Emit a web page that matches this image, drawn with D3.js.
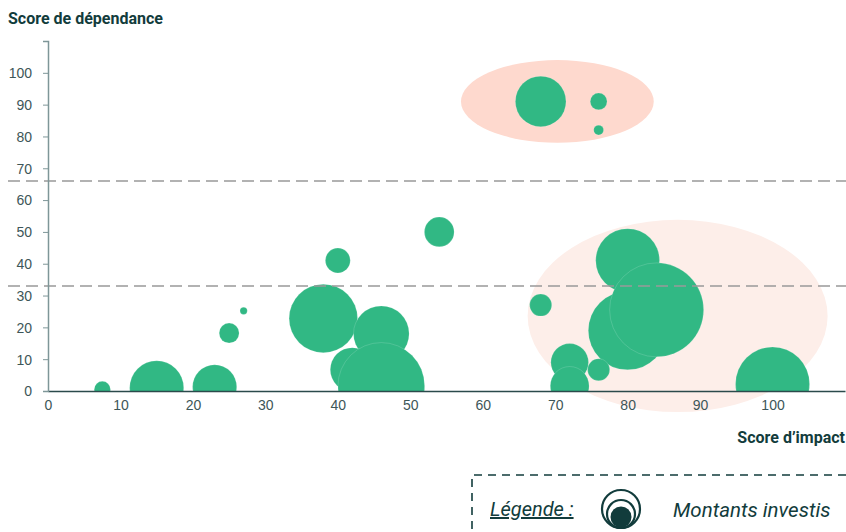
<!DOCTYPE html>
<html lang="fr">
<head>
<meta charset="UTF-8">
<title>Score d'impact / dépendance</title>
<script src="https://d3js.org/d3.v7.min.js"></script>
<style>
  body { margin: 0; background: #fff; font-family: Roboto, "Noto Sans", sans-serif; }
  .tick text { fill: #3d5658; font-size: 14px; }
</style>
</head>
<body>
<svg id="chart"></svg>
<script>
// impact score (x), dependance score (y), invested amount (bubble size)
const impact     = [7.5, 15, 23, 25, 27, 38, 40, 54, 46, 42, 46, 68, 80, 80, 84, 72, 72, 76, 100, 68, 76, 76];
const dependance = [0.5, 1, 1.3, 18.2, 25.2, 22.8, 41, 50, 18, 6.7, 1.6, 27, 41, 19, 25.5, 9, 1.6, 6.7, 2.2, 91, 91, 82];
const montants   = [3, 33, 22, 4.5, 0.6, 53, 7, 10, 35, 22, 85, 5.5, 46, 70, 100, 16, 17, 5.5, 62, 29, 3.2, 1.1];

const thresholds = [33, 66];
const xTicks = d3.range(0, 101, 10);
const yTicks = d3.range(0, 101, 10);

// highlighted zones: centre and half-axes in data units
const zones = [
  { cx: 70.3, cy: 91, rx: 13.3, ry: 13, color: "#fed9ce" },
  { cx: 86.9, cy: 23.6, rx: 20.7, ry: 30.2, color: "#fdeee9" }
];

const width = 846, height = 532;
const margin = { left: 48, right: 1, top: 41, bottom: 141 };

const svg = d3.select("#chart").attr("width", width).attr("height", height);

const x = d3.scaleLinear().domain([0, 110]).range([margin.left, width - margin.right]);
const y = d3.scaleLinear().domain([0, 110]).range([height - margin.bottom, margin.top]);
const r = d3.scaleSqrt().domain([0, 100]).range([0, 47]);

// zones
svg.append("g").selectAll("ellipse")
  .data(zones)
  .join("ellipse")
  .attr("cx", d => x(d.cx))
  .attr("cy", d => y(d.cy))
  .attr("rx", d => x(d.rx) - x(0))
  .attr("ry", d => y(0) - y(d.ry))
  .attr("fill", d => d.color);

svg.append("clipPath").attr("id", "plot")
  .append("rect")
  .attr("x", margin.left).attr("y", 0)
  .attr("width", width - margin.left).attr("height", y(0));

const data = impact.map((v, i) => ({ x: v, y: dependance[i], m: montants[i] }));

svg.append("g").attr("clip-path", "url(#plot)")
  .selectAll("circle")
  .data(data)
  .join("circle")
  .attr("cx", d => x(d.x))
  .attr("cy", d => y(d.y))
  .attr("r", d => r(d.m))
  .attr("fill", "#31b884")
  .attr("stroke", "#ffffff")
  .attr("stroke-opacity", 0.25)
  .attr("stroke-width", 0.6);

// threshold lines
svg.append("g").selectAll("line")
  .data(thresholds)
  .join("line")
  .attr("x1", 8).attr("x2", width)
  .attr("y1", d => y(d)).attr("y2", d => y(d))
  .attr("stroke", "#999999")
  .attr("stroke-width", 1.6)
  .attr("stroke-dasharray", "12,6");

// axes
const xAxis = svg.append("g")
  .attr("transform", `translate(0,${y(0)})`)
  .call(d3.axisBottom(x).tickValues(xTicks).tickSize(0).tickPadding(9));
xAxis.select(".domain").attr("stroke", "#2b4a4b").attr("stroke-width", 1.5);

const yAxis = svg.append("g")
  .attr("transform", `translate(${margin.left},0)`)
  .call(d3.axisLeft(y).tickValues(yTicks).tickSize(5).tickPadding(11));
yAxis.select(".domain").attr("stroke", "#7e9698").attr("stroke-width", 1.5);
yAxis.selectAll(".tick line").attr("stroke", "#7e9698");
yAxis.selectAll(".tick text").attr("dy", "0.35em");

svg.append("text")
  .attr("x", 8).attr("y", 24)
  .attr("font-size", 16).attr("font-weight", 700)
  .attr("fill", "#123c3c")
  .text("Score de dépendance");

svg.append("text")
  .attr("x", 845).attr("y", 443)
  .attr("text-anchor", "end")
  .attr("font-size", 16).attr("font-weight", 700)
  .attr("fill", "#123c3c")
  .text("Score d\u2019impact");

// legend
const lg = svg.append("g");
lg.append("path")
  .attr("d", `M${width},475 H472 V${height}`)
  .attr("fill", "none")
  .attr("stroke", "#123c3c")
  .attr("stroke-width", 1.6)
  .attr("stroke-dasharray", "8,6");

lg.append("text")
  .attr("x", 490).attr("y", 516)
  .attr("font-size", 20).attr("font-style", "italic")
  .attr("fill", "#123c3c")
  .attr("text-decoration", "underline")
  .text("Légende :");

const icon = lg.append("g");
[19, 14].forEach(rad => {
  icon.append("circle")
    .attr("cx", 621).attr("cy", 528 - rad).attr("r", rad)
    .attr("fill", "none").attr("stroke", "#123c3c").attr("stroke-width", 2.2);
});
icon.append("circle")
  .attr("cx", 621).attr("cy", 517).attr("r", 10.5)
  .attr("fill", "#123c3c");

lg.append("text")
  .attr("x", 673).attr("y", 517)
  .attr("font-size", 20.5).attr("font-style", "italic")
  .attr("fill", "#123c3c")
  .text("Montants investis");
</script>
</body>
</html>
